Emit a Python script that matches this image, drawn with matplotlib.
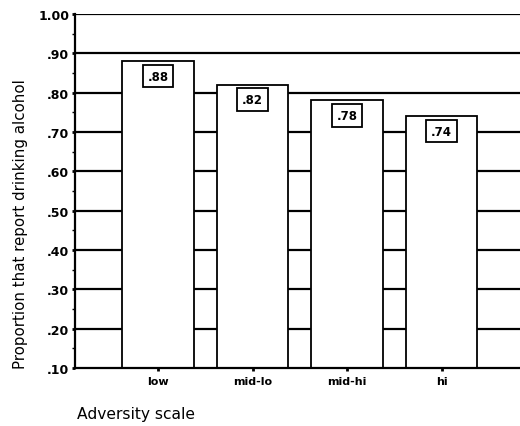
import numpy as np
import matplotlib.pyplot as plt
from matplotlib.ticker import MultipleLocator

# proportion reporting drinking alcohol by adversity level
categories = ["low", "mid-lo", "mid-hi", "hi"]
proportions = [0.88, 0.82, 0.78, 0.74]
y_ticks = [0.10, 0.20, 0.30, 0.40, 0.50, 0.60, 0.70, 0.80, 0.90, 1.00]
y_tick_labels = [".10", ".20", ".30", ".40", ".50", ".60", ".70", ".80", ".90", "1.00"]

plt.rcParams["font.family"] = "DejaVu Sans"

fig = plt.figure(figsize=(5.2, 4.27), dpi=100)
ax = fig.add_axes([0.144, 0.136, 0.856, 0.829])

x = np.arange(len(categories))

# horizontal reference lines sit behind the white bars
for t in y_ticks[1:]:
    ax.axhline(t, color="black", linewidth=1.6, zorder=1)

ax.bar(x, proportions, width=0.76, bottom=0, color="white",
       edgecolor="black", linewidth=1.3, zorder=2)

for xi, v in zip(x, proportions):
    ax.text(xi, v - 0.038, f"{v:.2f}".lstrip("0"), ha="center", va="center",
            fontsize=8.5, fontweight="bold", zorder=3,
            bbox=dict(boxstyle="square,pad=0.4", facecolor="white",
                      edgecolor="black", linewidth=1.3))

ax.set_xlim(-0.88, 3.83)
ax.set_ylim(0.10, 1.00)
ax.set_xticks(x)
ax.set_xticklabels(categories, fontsize=8, fontweight="bold")
ax.set_yticks(y_ticks)
ax.set_yticklabels(y_tick_labels, fontsize=9, fontweight="bold")
ax.yaxis.set_minor_locator(MultipleLocator(0.05))
ax.tick_params(axis="y", which="major", length=2, width=2, pad=2)
ax.tick_params(axis="y", which="minor", length=2, width=1)
ax.tick_params(axis="x", length=2, width=2, pad=4)

for side in ["top", "right"]:
    ax.spines[side].set_visible(False)
ax.spines["left"].set_linewidth(1.6)
ax.spines["bottom"].set_linewidth(1.6)

ax.set_ylabel("Proportion that report drinking alcohol", fontsize=10.8)
ax.yaxis.set_label_coords(-0.106, 0.41)
fig.text(0.148, 0.03, "Adversity scale", fontsize=11.2, ha="left", va="center")

fig.savefig("out.png", dpi=100)
